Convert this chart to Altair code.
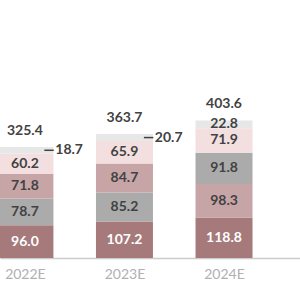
import altair as alt
import pandas as pd

years = ["2022E", "2023E", "2024E"]
series = ["A", "B", "C", "D", "E"]
vals_A = [96.0, 107.2, 118.8]
vals_B = [78.7, 85.2, 91.8]
vals_C = [71.8, 84.7, 98.3]
vals_D = [60.2, 65.9, 71.9]
vals_E = [18.7, 20.7, 22.8]
totals = [325.4, 363.7, 403.6]
side_label = [True, True, False]  # top small segment labelled beside the bar
colors = ["#a67a7b", "#ababab", "#c7a5a6", "#f3dfdf", "#e7e7e7"]

rows = []
for s, vals in zip(series, [vals_A, vals_B, vals_C, vals_D, vals_E]):
    for i, v in enumerate(vals):
        rows.append({"idx": i, "year": years[i], "series": s, "value": v,
                     "side": bool(side_label[i]) and s == "E"})
df = pd.DataFrame(rows)
tot = pd.DataFrame({"idx": list(range(len(years))), "total": totals})

FONT = "Lato"
FS = 14
TXT = "#424242"
xscale = alt.Scale(domain=[-0.2, 2.713], nice=False, zero=False)
yscale = alt.Scale(domain=[0, 757], nice=False)
labexpr = "[" + ",".join("'%s'" % y for y in years) + "][datum.value]"

base = alt.Chart(df)

bars = base.mark_bar(size=57, clip=True).encode(
    x=alt.X("idx:Q", scale=xscale,
            axis=alt.Axis(values=[0, 1, 2], labelExpr=labexpr, title=None, ticks=False,
                          grid=False, domainColor="#cccccc", domainWidth=1.5,
                          labelColor="#b0b0b0", labelFont=FONT, labelFontSize=14,
                          labelPadding=9)),
    y=alt.Y("value:Q", stack="zero", scale=yscale, axis=None),
    color=alt.Color("series:N", scale=alt.Scale(domain=series, range=colors), legend=None),
    order=alt.Order("value:Q", sort="descending"),
)

stacked = base.transform_stack(
    stack="value", groupby=["idx"], as_=["y0", "y1"],
    sort=[alt.SortField("value", order="descending")]
).transform_calculate(mid="(datum.y0 + datum.y1) / 2")

inside = stacked.transform_filter("!datum.side").mark_text(
    font=FONT, fontSize=FS, fontWeight="bold", clip=True
).encode(
    x=alt.X("idx:Q", scale=xscale),
    y=alt.Y("mid:Q", scale=yscale),
    text=alt.Text("value:Q", format=".1f"),
    color=alt.condition("datum.series == 'A'", alt.value("#ffffff"), alt.value(TXT)),
)

side_txt = stacked.transform_filter("datum.side").transform_calculate(
    xt="datum.idx + 0.305"
).mark_text(font=FONT, fontSize=FS, fontWeight="bold", align="left", color=TXT).encode(
    x=alt.X("xt:Q", scale=xscale),
    y=alt.Y("mid:Q", scale=yscale),
    text=alt.Text("value:Q", format=".1f"),
)

dash = stacked.transform_filter("datum.side").transform_calculate(
    xa="datum.idx + 0.195", xb="datum.idx + 0.29"
).mark_rule(color=TXT, strokeWidth=1.5).encode(
    x=alt.X("xa:Q", scale=xscale),
    x2="xb:Q",
    y=alt.Y("mid:Q", scale=yscale),
)

total_txt = alt.Chart(tot).mark_text(
    font=FONT, fontSize=FS, fontWeight="bold", dy=-16, color=TXT
).encode(
    x=alt.X("idx:Q", scale=xscale),
    y=alt.Y("total:Q", scale=yscale),
    text=alt.Text("total:Q", format=".1f"),
)

chart = alt.layer(bars, inside, side_txt, dash, total_txt).properties(
    width=300, height=258,
    autosize=alt.AutoSizeParams(type="none"),
    padding={"left": 0, "top": 0, "right": 0, "bottom": 42},
    background="#ffffff",
).configure_view(stroke=None)

chart.save("out.html", embed_options={"renderer": "svg", "actions": False})
